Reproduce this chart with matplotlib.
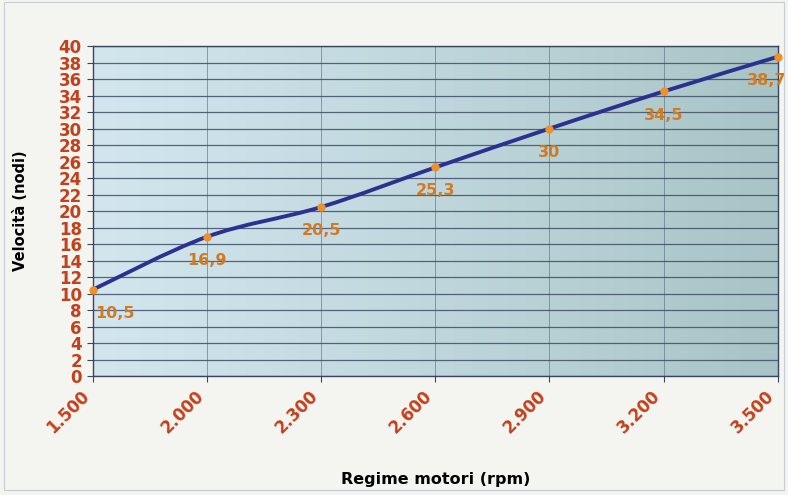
import numpy as np
import matplotlib.pyplot as plt
from matplotlib.path import Path
from matplotlib.patches import PathPatch, Rectangle
from matplotlib.colors import LinearSegmentedColormap

# Data
rpm_labels = ["1.500", "2.000", "2.300", "2.600", "2.900", "3.200", "3.500"]
speed = [10.5, 16.9, 20.5, 25.3, 30.0, 34.5, 38.7]
speed_labels = ["10,5", "16,9", "20,5", "25,3", "30", "34,5", "38,7"]

tick_red = "#c2411d"
label_orange = "#d27a22"
line_blue = "#2c3190"

fig = plt.figure(figsize=(7.88, 4.95), dpi=100, facecolor="#f4f4f1")
ax = fig.add_axes([0.118, 0.240, 0.869, 0.667])

x = np.arange(len(speed))
ax.set_xlim(0, len(speed) - 1)
ax.set_ylim(0, 40)

# gradient background of the plot area
grad = np.linspace(0, 1, 256).reshape(1, -1)
cmap = LinearSegmentedColormap.from_list("bg", ["#d3e6ee", "#bfd7dc", "#a8c4c6"])
ax.imshow(grad, extent=[0, len(speed) - 1, 0, 40], aspect="auto", cmap=cmap, zorder=0)

# grid
ax.set_yticks(range(0, 41, 2))
ax.set_xticks(x)
ax.grid(True, axis="y", color="#3f4d68", linewidth=0.9, alpha=0.85, zorder=1)
ax.grid(True, axis="x", color="#5a6a80", linewidth=0.6, alpha=0.7, zorder=1)

# smoothed line (Catmull-Rom -> Bezier, like a spreadsheet "smoothed line")
pts = np.column_stack([x, speed]).astype(float)
verts = [tuple(pts[0])]
codes = [Path.MOVETO]
for i in range(len(pts) - 1):
    p0 = pts[i - 1] if i > 0 else pts[i]
    p1 = pts[i]
    p2 = pts[i + 1]
    p3 = pts[i + 2] if i + 2 < len(pts) else pts[i + 1]
    c1 = p1 + (p2 - p0) / 6
    c2 = p2 - (p3 - p1) / 6
    verts += [tuple(c1), tuple(c2), tuple(p2)]
    codes += [Path.CURVE4] * 3
ax.add_patch(PathPatch(Path(verts, codes), facecolor="none", edgecolor=line_blue,
                       linewidth=2.8, zorder=3, clip_on=False))
ax.plot(x, speed, linestyle="none", marker="o", markersize=5, color="#f0902a",
        zorder=4, clip_on=False)

# value labels below the points
for i, (v, s) in enumerate(zip(speed, speed_labels)):
    dx = 0
    if i == 0:
        dx = 16
    elif i == len(speed) - 1:
        dx = -8
    ax.annotate(s, (i, v), xytext=(dx, -17), textcoords="offset points",
                ha="center", va="center", fontsize=11.5, fontweight="bold",
                color=label_orange, zorder=5)

for sp in ax.spines.values():
    sp.set_color("#3a4560")
    sp.set_linewidth(1.0)

ax.set_xticklabels(rpm_labels, rotation=45, ha="right", va="top",
                   fontsize=12, fontweight="bold", color=tick_red)
ax.set_yticklabels([str(v) for v in range(0, 41, 2)], fontsize=12,
                   fontweight="bold", color=tick_red)
ax.tick_params(axis="both", length=4, color="#3a4560", pad=4)
ax.tick_params(axis="y", pad=4)

ax.set_ylabel("Velocità (nodi)", fontsize=10.5, fontweight="bold")
ax.yaxis.set_label_coords(-0.095, 0.5)
ax.set_xlabel("Regime motori (rpm)", fontsize=11.5, fontweight="bold")
ax.xaxis.set_label_coords(0.5, -0.29)

# thin frame around the picture
fig.patches.append(Rectangle((0.005, 0.01), 0.99, 0.985, transform=fig.transFigure,
                             fill=False, edgecolor="#c8ccd4", linewidth=0.8))

plt.savefig("out.png", dpi=100, facecolor=fig.get_facecolor())
